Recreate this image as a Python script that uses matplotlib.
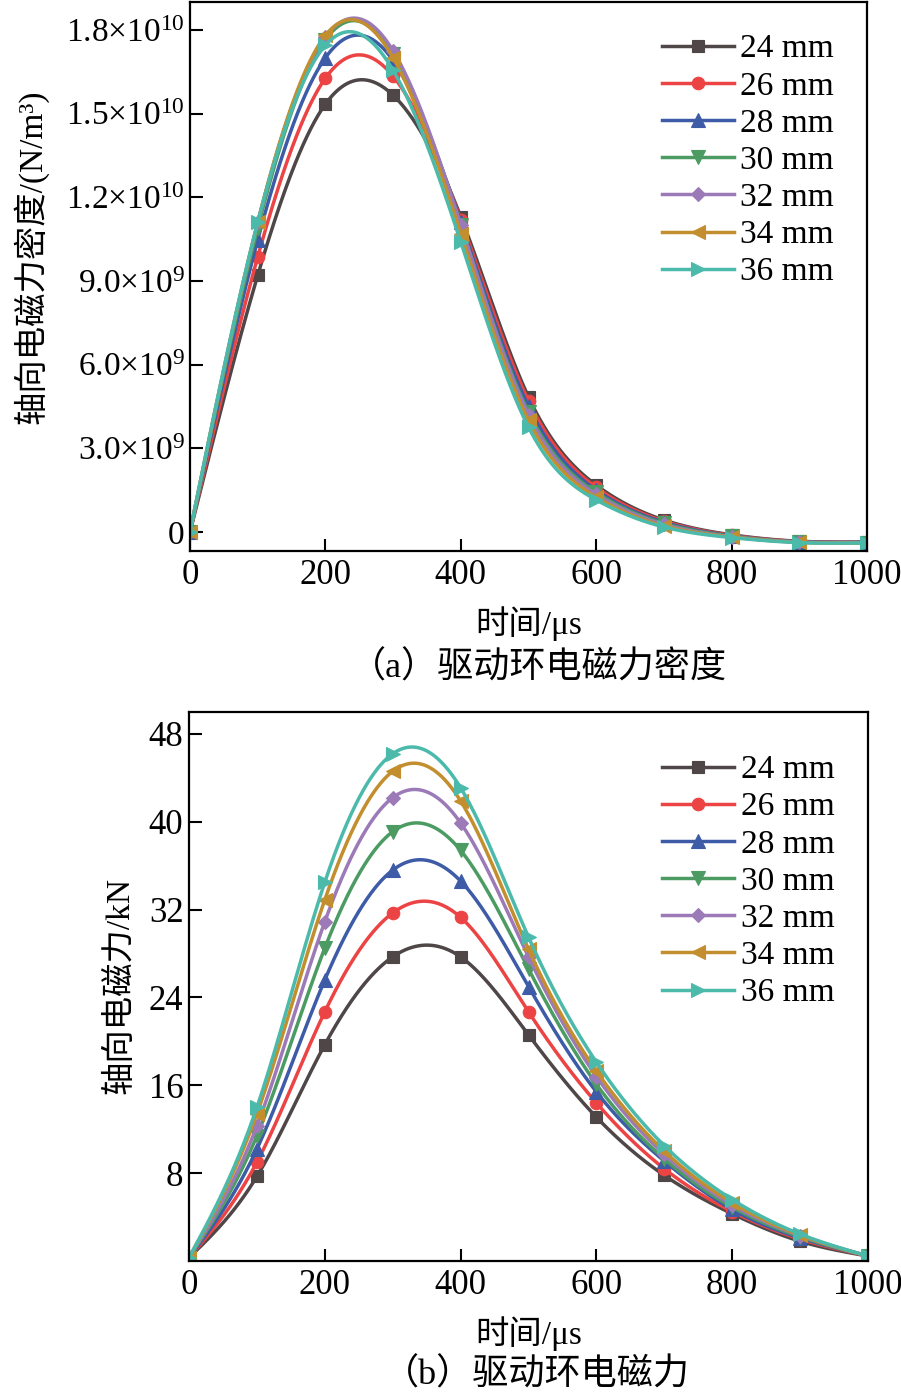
import numpy as np
import matplotlib
matplotlib.use("Agg")
import matplotlib.pyplot as plt
from matplotlib.ticker import FixedLocator, FixedFormatter

plt.rcParams['font.family'] = ['Liberation Serif', 'Noto Sans CJK SC', 'DejaVu Sans']
plt.rcParams['mathtext.fontset'] = 'custom'
plt.rcParams['mathtext.rm'] = 'Liberation Serif'
plt.rcParams['mathtext.it'] = 'Liberation Serif:italic'
plt.rcParams['mathtext.bf'] = 'Liberation Serif:bold'

# ---------------- data ----------------
time_us = [0, 100, 200, 300, 400, 500, 600, 700, 800, 900, 1000]
labels = ['24 mm', '26 mm', '28 mm', '30 mm', '32 mm', '34 mm', '36 mm']

# (a) axial electromagnetic force density, N/m^3
dens_24 = [0, 9.2e9, 1.534e10, 1.566e10, 1.13e10, 4.84e9, 1.68e9, 0.43e9, -0.10e9, -0.33e9, -0.36e9]
dens_26 = [0, 9.86e9, 1.627e10, 1.634e10, 1.12e10, 4.70e9, 1.60e9, 0.39e9, -0.12e9, -0.34e9, -0.37e9]
dens_28 = [0, 1.047e10, 1.70e10, 1.69e10, 1.11e10, 4.50e9, 1.50e9, 0.35e9, -0.14e9, -0.35e9, -0.37e9]
dens_30 = [0, 1.09e10, 1.765e10, 1.715e10, 1.10e10, 4.30e9, 1.42e9, 0.31e9, -0.15e9, -0.36e9, -0.38e9]
dens_32 = [0, 1.11e10, 1.775e10, 1.725e10, 1.10e10, 4.20e9, 1.35e9, 0.27e9, -0.17e9, -0.36e9, -0.38e9]
dens_34 = [0, 1.11e10, 1.78e10, 1.70e10, 1.07e10, 4.00e9, 1.25e9, 0.22e9, -0.18e9, -0.37e9, -0.39e9]
dens_36 = [0, 1.11e10, 1.745e10, 1.655e10, 1.04e10, 3.76e9, 1.15e9, 0.18e9, -0.20e9, -0.38e9, -0.39e9]

# (b) axial electromagnetic force, kN
force_24 = [0.3, 7.7, 19.7, 27.7, 27.7, 20.6, 13.1, 7.8, 4.3, 1.8, 0.45]
force_26 = [0.3, 9.0, 22.7, 31.7, 31.3, 22.7, 14.4, 8.4, 4.5, 2.0, 0.45]
force_28 = [0.3, 10.2, 25.6, 35.6, 34.6, 25.0, 15.4, 9.1, 4.7, 2.1, 0.45]
force_30 = [0.3, 11.4, 28.5, 39.1, 37.4, 26.6, 16.1, 9.3, 4.9, 2.2, 0.45]
force_32 = [0.3, 12.3, 30.9, 42.2, 39.9, 27.7, 16.8, 9.7, 5.1, 2.3, 0.45]
force_34 = [0.3, 13.4, 32.9, 44.6, 41.9, 28.4, 17.3, 10.0, 5.3, 2.35, 0.45]
force_36 = [0.3, 14.0, 34.5, 46.2, 43.1, 29.5, 18.1, 10.5, 5.6, 2.45, 0.45]

dens_all = [dens_24, dens_26, dens_28, dens_30, dens_32, dens_34, dens_36]
force_all = [force_24, force_26, force_28, force_30, force_32, force_34, force_36]

colors = ['#4f4747', '#ec4444', '#3d5ba7', '#4b9b62', '#9b7ab7', '#c38e2d', '#4cbaab']
markers = ['s', 'o', '^', 'v', 'D', '<', '>']
msizes = [8.5, 9, 9.5, 9.5, 7.5, 9.5, 9.5]

top_yticks = [0, 3e9, 6e9, 9e9, 1.2e10, 1.5e10, 1.8e10]
top_ylabels = ['0', r'$\mathregular{3.0{\times}10^9}$', r'$\mathregular{6.0{\times}10^9}$',
               r'$\mathregular{9.0{\times}10^9}$', r'$\mathregular{1.2{\times}10^{10}}$',
               r'$\mathregular{1.5{\times}10^{10}}$', r'$\mathregular{1.8{\times}10^{10}}$']
bot_yticks = [8, 16, 24, 32, 40, 48]
xticks = [0, 200, 400, 600, 800, 1000]


def natural_spline(x, y, xs):
    x = np.asarray(x, float)
    y = np.asarray(y, float)
    n = len(x)
    h = np.diff(x)
    A = np.zeros((n, n))
    b = np.zeros(n)
    A[0, 0] = A[-1, -1] = 1
    for i in range(1, n - 1):
        A[i, i - 1] = h[i - 1]
        A[i, i] = 2 * (h[i - 1] + h[i])
        A[i, i + 1] = h[i]
        b[i] = 6 * ((y[i + 1] - y[i]) / h[i] - (y[i] - y[i - 1]) / h[i - 1])
    M = np.linalg.solve(A, b)
    idx = np.clip(np.searchsorted(x, xs) - 1, 0, n - 2)
    x0 = x[idx]
    x1 = x[idx + 1]
    hh = x1 - x0
    t0 = xs - x0
    t1 = x1 - xs
    return (M[idx] * t1 ** 3 / (6 * hh) + M[idx + 1] * t0 ** 3 / (6 * hh)
            + (y[idx] / hh - M[idx] * hh / 6) * t1 + (y[idx + 1] / hh - M[idx + 1] * hh / 6) * t0)


W, H = 901, 1395
fig = plt.figure(figsize=(W / 100, H / 100), dpi=100)


def ax_rect(l, r, t, b):
    return [l / W, 1 - b / H, (r - l) / W, (b - t) / H]


ax1 = fig.add_axes(ax_rect(190, 867, 2, 551))
ax2 = fig.add_axes(ax_rect(189, 868, 712, 1261))

xs = np.linspace(0, 1000, 1001)
for ax, series in ((ax1, dens_all), (ax2, force_all)):
    for ys, c, m, ms, lab in zip(series, colors, markers, msizes, labels):
        ax.plot(xs, natural_spline(time_us, ys, xs), color=c, lw=2.5, marker=m, ms=ms,
                markevery=100, label=lab, markeredgewidth=0.8)
    ax.set_xlim(0, 1000)
    ax.set_xticks(xticks)
    ax.tick_params(direction='in', length=9, width=1.5, labelsize=25, pad=6,
                   top=False, right=False)
    for s in ax.spines.values():
        s.set_linewidth(1.6)
    ax.legend(frameon=False, fontsize=24, handlelength=2.15, handletextpad=0.2,
              labelspacing=0.2, borderpad=0, borderaxespad=0, loc='upper left',
              bbox_to_anchor=(0.697, 0.942 if ax is ax1 else 0.922))

ax1.set_ylim(-0.68e9, 1.9e10)
ax1.yaxis.set_major_locator(FixedLocator(top_yticks))
ax1.yaxis.set_major_formatter(FixedFormatter(top_ylabels))
ax1.tick_params(axis='y', pad=4, labelsize=24)

ax2.set_ylim(0, 50)
ax2.set_yticks(bot_yticks)
ax2.tick_params(axis='y', pad=4)

fig.text(529 / W, 1 - 624 / H, '时间/μs', fontsize=24, ha='center', va='center')
fig.text(538 / W, 1 - 668 / H, '（a）驱动环电磁力密度', fontsize=26, ha='center', va='center')
fig.text(31 / W, 1 - 257 / H, '轴向电磁力密度/(N/m³)', fontsize=24,
         rotation=90, ha='center', va='center')

fig.text(529 / W, 1 - 1334 / H, '时间/μs', fontsize=24, ha='center', va='center')
fig.text(536 / W, 1 - 1375 / H, '（b）驱动环电磁力', fontsize=26, ha='center', va='center')
fig.text(120 / W, 1 - 986 / H, '轴向电磁力/kN', fontsize=24,
         rotation=90, ha='center', va='center')

fig.savefig('out.png', dpi=100)
